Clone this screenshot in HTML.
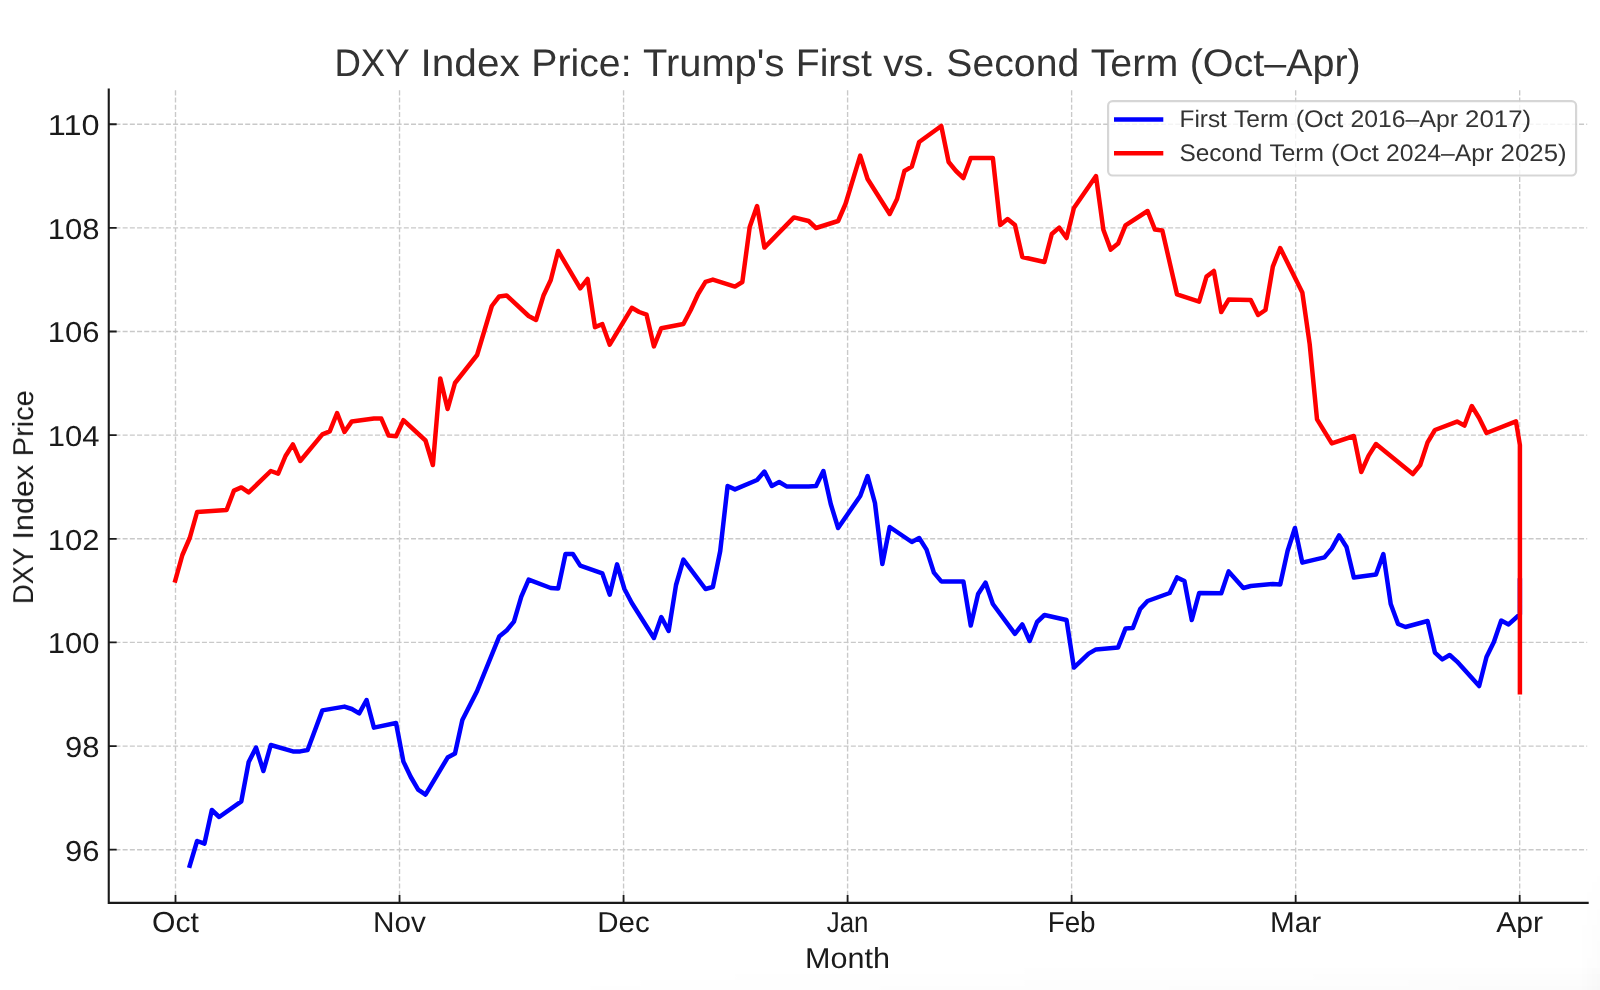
<!DOCTYPE html>
<html lang="en"><head><meta charset="utf-8"><title>DXY Index Price</title>
<style>html,body{margin:0;padding:0;background:#fff;}body{width:1600px;height:990px;overflow:hidden;font-family:"Liberation Sans",sans-serif;}svg{display:block;}text{font-family:"Liberation Sans",sans-serif;text-rendering:geometricPrecision;}</style></head><body>
<svg width="1600" height="990" viewBox="0 0 1600 990">
<defs><linearGradient id="gb" x1="0" y1="0" x2="0" y2="1"><stop offset="0" stop-color="#000" stop-opacity="0"/><stop offset="1" stop-color="#000" stop-opacity="0.016"/></linearGradient><linearGradient id="gr" x1="0" y1="0" x2="1" y2="0"><stop offset="0" stop-color="#000" stop-opacity="0"/><stop offset="1" stop-color="#000" stop-opacity="0.016"/></linearGradient><linearGradient id="mh" x1="0" y1="0" x2="1" y2="0"><stop offset="0.28" stop-color="#fff" stop-opacity="0"/><stop offset="1" stop-color="#fff" stop-opacity="1"/></linearGradient><linearGradient id="mv" x1="0" y1="0" x2="0" y2="1"><stop offset="0" stop-color="#fff" stop-opacity="0"/><stop offset="1" stop-color="#fff" stop-opacity="1"/></linearGradient><mask id="mkb"><rect x="0" y="960" width="1600" height="30" fill="url(#mh)"/></mask><mask id="mkr"><rect x="1570" y="860" width="30" height="130" fill="url(#mv)"/></mask></defs>
<rect width="1600" height="990" fill="#fff"/>
<path d="M175.50 902.90V89.60M399.53 902.90V89.60M623.56 902.90V89.60M847.59 902.90V89.60M1071.62 902.90V89.60M1295.65 902.90V89.60M1519.68 902.90V89.60M108.2 849.71H1587.20M108.2 746.07H1587.20M108.2 642.43H1587.20M108.2 538.79H1587.20M108.2 435.15H1587.20M108.2 331.51H1587.20M108.2 227.87H1587.20M108.2 124.23H1587.20" fill="none" stroke="#c9c9c9" stroke-width="1.36" stroke-dasharray="5.03 2.18"/>
<path d="M189.74 865.70L197.10 841.00L204.47 843.60L211.84 810.00L219.21 817.00L241.31 801.40L248.68 762.00L256.05 747.60L263.42 771.00L270.78 745.00L292.89 751.40L300.26 751.40L307.62 750.00L322.36 710.40L344.46 706.60L351.83 709.00L359.20 713.40L366.57 700.00L373.94 727.60L396.04 723.00L403.41 761.60L410.78 777.00L418.14 789.60L425.51 794.60L447.62 757.60L454.98 753.60L462.35 720.00L477.09 691.00L499.19 636.60L506.56 630.60L513.93 621.60L521.30 596.60L528.66 579.60L550.77 588.00L558.14 588.60L565.50 554.00L572.87 554.00L580.24 565.60L602.34 573.40L609.71 594.60L617.08 564.40L624.45 589.00L631.82 603.00L653.92 638.00L661.29 617.00L668.66 631.00L676.02 585.00L683.39 559.60L705.50 589.00L712.86 587.00L720.23 551.00L727.60 486.00L734.97 489.40L757.07 480.00L764.44 471.60L771.81 486.00L779.18 482.00L786.54 486.40L808.65 486.40L816.02 486.00L823.38 471.00L830.75 504.00L838.12 528.00L860.22 496.00L867.59 476.00L874.96 503.00L882.33 564.00L889.70 527.00L911.80 542.00L919.17 538.00L926.54 549.60L933.90 572.60L941.27 581.40L963.38 581.40L970.74 625.60L978.11 594.00L985.48 582.60L992.85 604.00L1014.95 633.80L1022.32 624.40L1029.69 641.00L1037.06 622.00L1044.42 615.00L1066.53 620.00L1073.90 667.60L1088.63 653.60L1096.00 649.40L1118.10 647.40L1125.47 628.60L1132.84 628.00L1140.21 609.00L1147.58 601.00L1169.68 593.00L1177.05 577.40L1184.42 581.00L1191.78 620.00L1199.15 593.00L1221.26 593.20L1228.62 571.40L1243.36 588.00L1250.73 586.00L1272.83 584.00L1280.20 584.40L1287.57 551.00L1294.94 528.00L1302.30 562.60L1324.41 557.40L1331.78 548.60L1339.14 535.40L1346.51 547.00L1353.88 577.60L1375.98 574.40L1383.35 554.00L1390.72 604.00L1398.09 624.00L1405.46 627.00L1427.56 621.00L1434.93 652.60L1442.30 659.40L1449.66 655.00L1457.03 661.60L1479.14 686.00L1486.50 657.00L1493.87 642.00L1501.24 620.60L1508.61 624.40L1519.90 614.30L1519.90 580.50" fill="none" stroke="#0000ff" stroke-width="4.5" stroke-linejoin="round" stroke-linecap="square"/>
<path d="M175.25 580.50L182.37 555.00L189.74 538.00L197.10 512.00L226.58 510.00L233.94 490.60L241.31 487.40L248.68 492.40L270.78 471.00L278.15 473.60L285.52 456.00L292.89 444.40L300.26 461.00L322.36 434.40L329.73 431.40L337.10 413.00L344.46 432.00L351.83 421.40L373.94 418.40L381.30 418.60L388.67 435.60L396.04 436.20L403.41 420.20L425.51 440.50L432.88 465.00L440.25 378.40L447.62 409.00L454.98 383.00L477.09 355.00L491.82 306.00L499.19 296.40L506.56 295.40L528.66 316.00L536.03 320.00L543.40 295.80L550.77 280.00L558.14 251.00L580.24 288.40L587.61 279.00L594.98 327.20L602.34 324.20L609.71 344.70L631.82 307.80L639.18 312.00L646.55 314.70L653.92 346.40L661.29 328.20L683.39 324.00L690.76 310.00L698.13 294.00L705.50 281.80L712.86 279.60L734.97 286.60L742.34 282.00L749.70 227.00L757.07 206.00L764.44 247.60L793.91 217.40L808.65 221.00L816.02 228.00L838.12 221.00L845.49 204.00L860.22 155.60L867.59 179.00L889.70 214.00L897.06 199.00L904.43 171.00L911.80 166.60L919.17 142.00L941.27 126.00L948.64 162.00L956.01 171.00L963.38 178.00L970.74 158.00L992.85 158.00L1000.22 225.00L1007.58 219.00L1014.95 225.00L1022.32 257.00L1044.42 262.00L1051.79 234.00L1059.16 227.60L1066.53 238.00L1073.90 208.00L1096.00 176.00L1103.37 229.80L1110.74 249.60L1118.10 243.60L1125.47 225.40L1147.58 211.00L1154.94 229.60L1162.31 230.60L1177.05 294.40L1199.15 301.60L1206.52 276.60L1213.89 271.00L1221.26 312.00L1228.62 299.60L1250.73 300.00L1258.10 315.00L1265.46 310.00L1272.83 266.60L1280.20 248.00L1302.30 292.40L1309.67 344.00L1317.04 419.40L1331.78 443.40L1353.88 436.00L1361.25 472.00L1368.62 455.60L1375.98 444.00L1412.82 474.00L1420.19 465.00L1427.56 442.40L1434.93 430.00L1457.03 421.60L1464.40 425.60L1471.77 406.00L1479.14 418.00L1486.50 433.00L1515.98 421.40L1519.90 445.00L1519.90 692.20" fill="none" stroke="#ff0000" stroke-width="4.5" stroke-linejoin="round" stroke-linecap="square"/>
<path d="M175.50 902.90v-7.9M399.53 902.90v-7.9M623.56 902.90v-7.9M847.59 902.90v-7.9M1071.62 902.90v-7.9M1295.65 902.90v-7.9M1519.68 902.90v-7.9M108.75 849.71h7.9M108.75 746.07h7.9M108.75 642.43h7.9M108.75 538.79h7.9M108.75 435.15h7.9M108.75 331.51h7.9M108.75 227.87h7.9M108.75 124.23h7.9" fill="none" stroke="#1a1a1a" stroke-width="1.8"/>
<path d="M108.75 88.60V902.90H1588.70" fill="none" stroke="#1a1a1a" stroke-width="2.1" stroke-linecap="butt" stroke-linejoin="miter"/>
<g id="labels" opacity="0.999">
<text y="931.80" font-size="28.86" fill="#1a1a1a"><tspan x="152.07" textLength="46.86" lengthAdjust="spacingAndGlyphs">Oct</tspan></text>
<text y="931.80" font-size="28.86" fill="#1a1a1a"><tspan x="373.08" textLength="52.89" lengthAdjust="spacingAndGlyphs">Nov</tspan></text>
<text y="931.80" font-size="28.86" fill="#1a1a1a"><tspan x="597.34" textLength="52.44" lengthAdjust="spacingAndGlyphs">Dec</tspan></text>
<text y="931.80" font-size="28.86" fill="#1a1a1a"><tspan x="826.70" textLength="41.77" lengthAdjust="spacingAndGlyphs">Jan</tspan></text>
<text y="931.80" font-size="28.86" fill="#1a1a1a"><tspan x="1047.63" textLength="47.98" lengthAdjust="spacingAndGlyphs">Feb</tspan></text>
<text y="931.80" font-size="28.86" fill="#1a1a1a"><tspan x="1270.08" textLength="51.13" lengthAdjust="spacingAndGlyphs">Mar</tspan></text>
<text y="931.80" font-size="28.86" fill="#1a1a1a"><tspan x="1496.24" textLength="46.88" lengthAdjust="spacingAndGlyphs">Apr</tspan></text>
<text y="860.61" font-size="28.86" fill="#1a1a1a"><tspan x="65.12" textLength="34.48" lengthAdjust="spacingAndGlyphs">96</tspan></text>
<text y="756.97" font-size="28.86" fill="#1a1a1a"><tspan x="65.12" textLength="34.48" lengthAdjust="spacingAndGlyphs">98</tspan></text>
<text y="653.33" font-size="28.86" fill="#1a1a1a"><tspan x="47.87" textLength="51.73" lengthAdjust="spacingAndGlyphs">100</tspan></text>
<text y="549.69" font-size="28.86" fill="#1a1a1a"><tspan x="47.87" textLength="51.73" lengthAdjust="spacingAndGlyphs">102</tspan></text>
<text y="446.05" font-size="28.86" fill="#1a1a1a"><tspan x="47.87" textLength="51.73" lengthAdjust="spacingAndGlyphs">104</tspan></text>
<text y="342.41" font-size="28.86" fill="#1a1a1a"><tspan x="47.87" textLength="51.73" lengthAdjust="spacingAndGlyphs">106</tspan></text>
<text y="238.77" font-size="28.86" fill="#1a1a1a"><tspan x="47.87" textLength="51.73" lengthAdjust="spacingAndGlyphs">108</tspan></text>
<text y="135.13" font-size="28.86" fill="#1a1a1a"><tspan x="47.87" textLength="51.73" lengthAdjust="spacingAndGlyphs">110</tspan></text>
<text y="967.50" font-size="28.86" fill="#1a1a1a"><tspan x="805.03" textLength="84.94" lengthAdjust="spacingAndGlyphs">Month</tspan></text>
<g transform="translate(33.0 604.11) rotate(-90)"><text y="0.00" font-size="28.86" fill="#1a1a1a"><tspan x="0.00" textLength="55.99" lengthAdjust="spacingAndGlyphs">DXY</tspan> <tspan x="64.60" textLength="74.60" lengthAdjust="spacingAndGlyphs">Index</tspan> <tspan x="147.82" textLength="66.11" lengthAdjust="spacingAndGlyphs">Price</tspan></text></g>
<text y="75.60" font-size="38.45" fill="#333333"><tspan x="334.43" textLength="74.58" lengthAdjust="spacingAndGlyphs">DXY</tspan> <tspan x="420.49" textLength="99.38" lengthAdjust="spacingAndGlyphs">Index</tspan> <tspan x="531.34" textLength="100.23" lengthAdjust="spacingAndGlyphs">Price:</tspan> <tspan x="643.05" textLength="141.28" lengthAdjust="spacingAndGlyphs">Trump's</tspan> <tspan x="795.80" textLength="75.97" lengthAdjust="spacingAndGlyphs">First</tspan> <tspan x="883.25" textLength="51.65" lengthAdjust="spacingAndGlyphs">vs.</tspan> <tspan x="946.37" textLength="132.85" lengthAdjust="spacingAndGlyphs">Second</tspan> <tspan x="1090.70" textLength="87.50" lengthAdjust="spacingAndGlyphs">Term</tspan> <tspan x="1189.68" textLength="171.09" lengthAdjust="spacingAndGlyphs">(Oct–Apr)</tspan></text>
</g>
<rect x="1108.1" y="101.2" width="468.0" height="74.3" rx="4.5" ry="4.5" fill="#fff" fill-opacity="0.8" stroke="#cccccc" stroke-opacity="0.8" stroke-width="2.2"/>
<path d="M1114 119.6H1163.3" stroke="#0000ff" stroke-width="4.5" fill="none"/>
<path d="M1114 153.3H1163.3" stroke="#ff0000" stroke-width="4.5" fill="none"/>
<g id="legend-text" opacity="0.999">
<text y="127.40" font-size="23.96" fill="#333333"><tspan x="1179.50" textLength="47.35" lengthAdjust="spacingAndGlyphs">First</tspan> <tspan x="1234.00" textLength="54.54" lengthAdjust="spacingAndGlyphs">Term</tspan> <tspan x="1295.69" textLength="47.68" lengthAdjust="spacingAndGlyphs">(Oct</tspan> <tspan x="1350.53" textLength="107.44" lengthAdjust="spacingAndGlyphs">2016–Apr</tspan> <tspan x="1465.11" textLength="66.04" lengthAdjust="spacingAndGlyphs">2017)</tspan></text>
<text y="161.20" font-size="23.96" fill="#333333"><tspan x="1179.50" textLength="82.80" lengthAdjust="spacingAndGlyphs">Second</tspan> <tspan x="1269.46" textLength="54.54" lengthAdjust="spacingAndGlyphs">Term</tspan> <tspan x="1331.14" textLength="47.68" lengthAdjust="spacingAndGlyphs">(Oct</tspan> <tspan x="1385.98" textLength="107.44" lengthAdjust="spacingAndGlyphs">2024–Apr</tspan> <tspan x="1500.57" textLength="66.04" lengthAdjust="spacingAndGlyphs">2025)</tspan></text>
</g>
<rect x="0" y="965" width="1600" height="25" fill="url(#gb)" mask="url(#mkb)"/>
<rect x="1580" y="860" width="20" height="130" fill="url(#gr)" mask="url(#mkr)"/>
</svg></body></html>
